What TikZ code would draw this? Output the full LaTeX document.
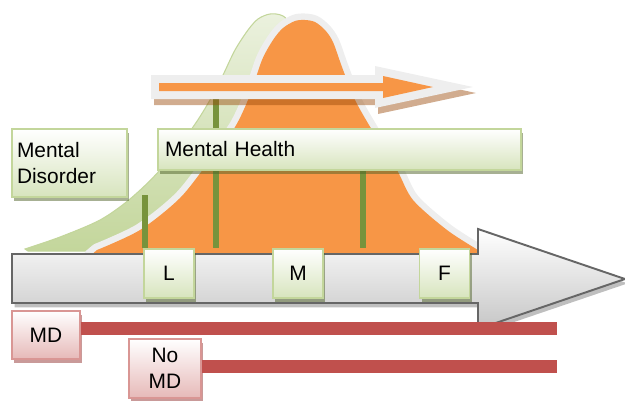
\documentclass[tikz,border=0pt]{standalone}
\usepackage{fontspec}
\setmainfont{Liberation Sans}
\usetikzlibrary{shadows}
\definecolor{bellorange}{RGB}{247,150,70}
\definecolor{halo}{RGB}{238,238,238}
\definecolor{palegreen}{RGB}{235,241,222}
\definecolor{midgreen}{RGB}{195,214,155}
\definecolor{boxgreen}{RGB}{215,228,189}
\definecolor{bargreen}{RGB}{119,147,60}
\definecolor{darkolive}{RGB}{79,98,40}
\definecolor{linered}{RGB}{192,80,77}
\definecolor{pinkfill}{RGB}{230,185,184}
\definecolor{pinkedge}{RGB}{217,150,148}
\definecolor{darkred}{RGB}{148,54,52}
\definecolor{shadowbrown}{RGB}{152,72,7}
\definecolor{axisedge}{RGB}{102,102,102}
\tikzset{
  greenbox/.style={draw=midgreen, line width=1.1pt, top color=white, bottom color=boxgreen,
    drop shadow={shadow xshift=1.4pt, shadow yshift=-2.2pt, fill=darkolive, opacity=.5}, inner sep=0pt},
  letterbox/.style={greenbox, minimum width=1cm, minimum height=0.98cm},
  pinkbox/.style={draw=pinkedge, line width=1.1pt, top color=white, bottom color=pinkfill,
    drop shadow={shadow xshift=1.4pt, shadow yshift=-2.2pt, fill=darkred, opacity=.5}, inner sep=0pt, align=center},
  redline/.style={linered, line width=0.26cm},
  bar/.style={bargreen, line width=0.13cm}
}
\begin{document}
\begin{tikzpicture}[x=0.02cm, y=-0.02cm, font=\fontsize{11.9}{14.7}\selectfont]
\useasboundingbox (0,0) rectangle (625,400);
% green shape behind the curve
\path[draw=midgreen, line width=0.6pt, top color=palegreen, bottom color=midgreen]
  (28,251) -- plot[smooth] coordinates {(25,249) (60,237) (100,220) (130,199) (160,170) (193,127) (210,100) (223,75) (235,50) (248,30) (258,19) (270,14) (283,16) (298,30)} -- (300,252) -- cycle;
% orange bell curve
\path[fill=bellorange, preaction={draw=halo, line width=0.26cm, line join=round}]
  (90,256) -- plot[smooth] coordinates {(97,250) (140,230) (180,198) (210,160) (235,127) (250,95) (262,60) (273,40) (283,28) (295,21) (305,20) (315,22) (325,30) (333,42) (342,67) (355,100) (375,135) (397,170) (413,200) (447,230) (478,250)} -- (490,256) -- cycle;
% bars
\draw [bar] (145,195) -- (145,248);
\draw [bar] (216,95) -- (216,248);
\draw [bar] (363,168) -- (363,248);
% upper arrow
\fill [shadowbrown, opacity=.45, shift={(3,6)}] (151,75) -- (375,75) -- (375,66) -- (473,87) -- (375,108) -- (375,99) -- (151,99) -- cycle;
\fill [halo] (151,75) -- (375,75) -- (375,66) -- (473,87) -- (375,108) -- (375,99) -- (151,99) -- cycle;
\fill [bellorange] (159,83) -- (383,83) -- (383,76) -- (433,87) -- (383,98) -- (383,91) -- (159,91) -- cycle;
% axis arrow
\draw [axisedge, line width=1.1pt, top color=white, bottom color=gray!45,
  drop shadow={shadow xshift=1.5pt, shadow yshift=-2.5pt, fill=black!25, opacity=1}]
  (12,254) -- (478,254) -- (478,229) -- (625,279) -- (478,329) -- (478,303) -- (12,303) -- cycle;
% boxes
\node [greenbox, minimum width=2.3cm, minimum height=1.36cm, text width=2.1cm, align=left] (disorder) at (69.5,163) {Mental\\Disorder};
\node [greenbox, minimum width=7.26cm, minimum height=0.82cm, text width=6.98cm, align=left] (health) at (339.5,149.5) {Mental Health};
\node [letterbox] (low) at (169,273.5) {L};
\node [letterbox] (mid) at (298,273.5) {M};
\node [letterbox] (full) at (444.5,273.5) {F};
\node [pinkbox, minimum width=1.36cm, minimum height=0.96cm] (md) at (46,335) {MD};
\node [pinkbox, minimum width=1.44cm, minimum height=1.18cm] (nomd) at (165,368.5) {No\\MD};
% red lines
\coordinate (mdend) at (557,328.5);
\coordinate (nomdend) at (557,366.5);
\draw [redline] (md.east |- mdend) -- (mdend);
\draw [redline] (nomd.east |- nomdend) -- (nomdend);
\end{tikzpicture}
\end{document}
